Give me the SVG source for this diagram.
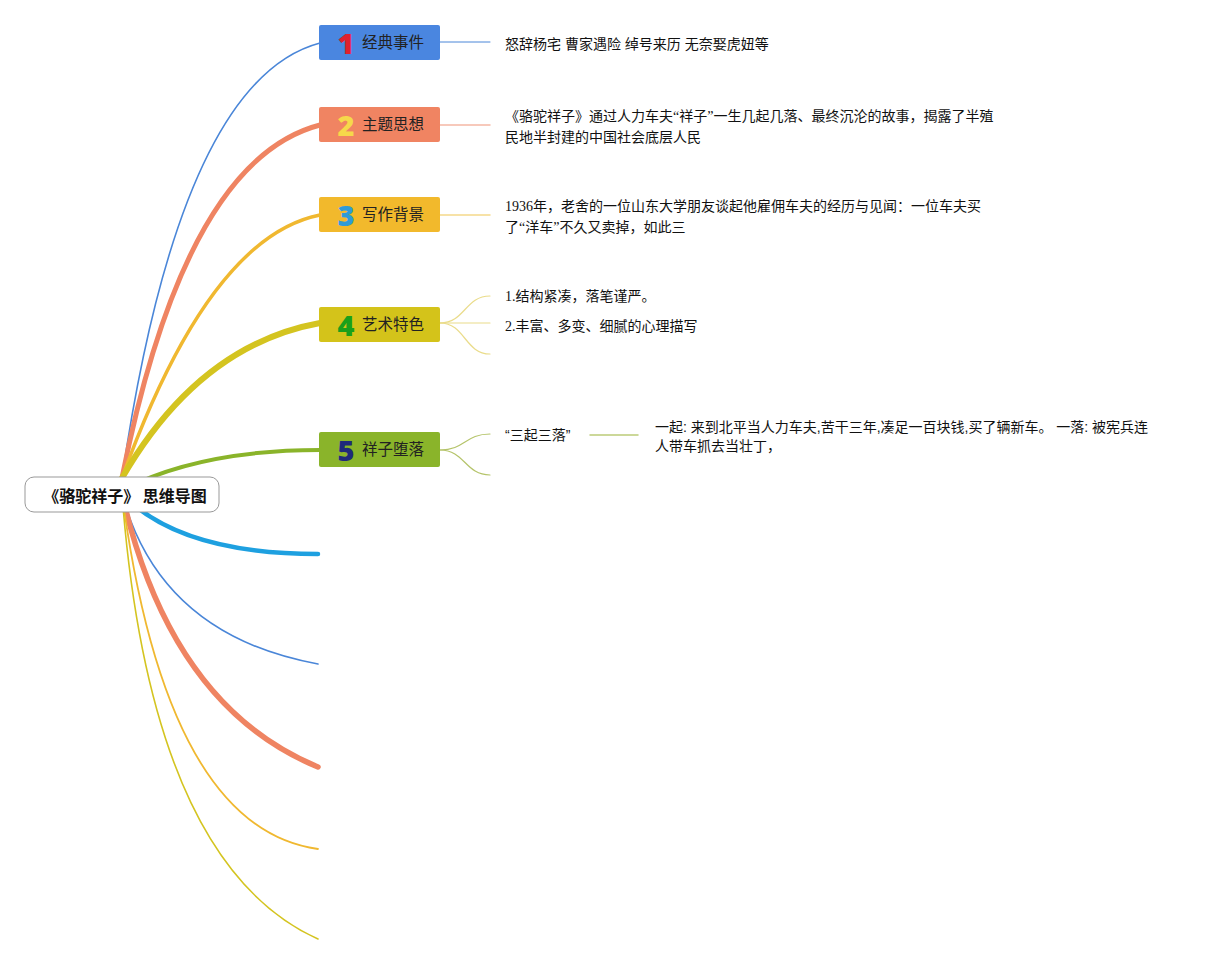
<svg xmlns="http://www.w3.org/2000/svg" width="1214" height="965" viewBox="0 0 1214 965">
<style>
.lbl{font-family:"Noto Sans CJK SC","Noto Sans",sans-serif;font-size:15.5px;fill:#222}
.num{font-family:"Open Sans","Liberation Sans",sans-serif;font-weight:800;font-size:29px;text-anchor:middle}
.txt{font-family:"Liberation Serif","Noto Sans CJK SC",serif;font-size:14px;fill:#111}
.txs{font-family:"Liberation Sans","Noto Sans CJK SC",sans-serif;font-size:14px;fill:#111}
.c{fill:none;stroke-linecap:round}
</style>
<rect width="1214" height="965" fill="#fff"/>
<g id="connectors">
  <path class="c" d="M122,478 Q180,80 320,43" stroke="#4A86D8" stroke-width="1.6"/>
  <path class="c" d="M122,478 Q185,160 320,125" stroke="#EF8462" stroke-width="5"/>
  <path class="c" d="M122,478 Q209,237 320,215" stroke="#F0B830" stroke-width="3.5"/>
  <path class="c" d="M122,478 Q199,345 320,323" stroke="#D4C420" stroke-width="6"/>
  <path class="c" d="M122,490 Q200,450 320,450" stroke="#8AB42A" stroke-width="4"/>
  <path class="c" d="M122,494 Q180,554 318,554" stroke="#1EA0E0" stroke-width="4.5"/>
  <path class="c" d="M122,494 Q160,635 318,664" stroke="#4A86D8" stroke-width="1.6"/>
  <path class="c" d="M122,494 Q170,706 318,767" stroke="#EF8462" stroke-width="5.5"/>
  <path class="c" d="M122,494 Q166,828 318,849" stroke="#F0B830" stroke-width="1.8"/>
  <path class="c" d="M122,494 Q150,863 318,939" stroke="#D4C420" stroke-width="1.6"/>
  <path class="c" d="M440,42 L490,42" stroke="#4A86D8" stroke-width="1"/>
  <path class="c" d="M440,125 L490,125" stroke="#F5B8A5" stroke-width="1.5"/>
  <path class="c" d="M440,215 L490,215" stroke="#F5D98A" stroke-width="1.5"/>
  <path class="c" d="M440,323 C465,323 465,296 490,296" stroke="#EADC8A" stroke-width="1.2"/>
  <path class="c" d="M440,323 L490,323" stroke="#EADC8A" stroke-width="1.2"/>
  <path class="c" d="M440,323 C465,323 465,354 490,354" stroke="#EADC8A" stroke-width="1.2"/>
  <path class="c" d="M440,450 C465,450 465,434 490,434" stroke="#B5C46A" stroke-width="1.2"/>
  <path class="c" d="M440,450 C465,450 465,475 490,475" stroke="#B5C46A" stroke-width="1.2"/>
  <path class="c" d="M590,435 L638,435" stroke="#BCCB78" stroke-width="1.5"/>
</g>
<g id="root">
  <rect x="25" y="477" width="194" height="35" rx="9" fill="#fff" stroke="#999" stroke-width="1"/>
  <text x="125" y="501.5" text-anchor="middle" style="font-family:'Noto Sans CJK SC',sans-serif;font-weight:bold;font-size:16px;fill:#111">《骆驼祥子》 思维导图</text>
</g>
<g id="node1">
  <rect x="319" y="25" width="121" height="35" rx="2" fill="#4A86E0"/>
  <text class="num" x="346" y="54" fill="#E0202E">1</text>
  <text class="lbl" x="362" y="48">经典事件</text>
</g>
<g id="node2">
  <rect x="319" y="107" width="121" height="35" rx="2" fill="#F08462"/>
  <text class="num" x="346" y="136" fill="#F6D84A">2</text>
  <text class="lbl" x="362" y="130">主题思想</text>
</g>
<g id="node3">
  <rect x="319" y="197" width="121" height="35" rx="2" fill="#F2B92C"/>
  <text class="num" x="346" y="226" fill="#2F9BD8">3</text>
  <text class="lbl" x="362" y="220">写作背景</text>
</g>
<g id="node4">
  <rect x="319" y="307" width="121" height="35" rx="2" fill="#D4C31A"/>
  <text class="num" x="346" y="336" fill="#1AA01A">4</text>
  <text class="lbl" x="362" y="330">艺术特色</text>
</g>
<g id="node5">
  <rect x="319" y="432" width="121" height="35" rx="2" fill="#8AB42A"/>
  <text class="num" x="346" y="461" fill="#1F2A7A">5</text>
  <text class="lbl" x="362" y="455">祥子堕落</text>
</g>
<g id="text1">
  <text class="txs" x="505" y="49">怒辞杨宅 曹家遇险 绰号来历 无奈娶虎妞等</text>
</g>
<g id="text2">
  <text class="txt" x="505" y="121">《骆驼祥子》通过人力车夫“祥子”一生几起几落、最终沉沦的故事，揭露了半殖</text>
  <text class="txt" x="505" y="142">民地半封建的中国社会底层人民</text>
</g>
<g id="text3">
  <text class="txt" x="505" y="211">1936年，老舍的一位山东大学朋友谈起他雇佣车夫的经历与见闻：一位车夫买</text>
  <text class="txt" x="505" y="232">了“洋车”不久又卖掉，如此三</text>
</g>
<g id="text4a">
  <text class="txt" x="505" y="301">1.结构紧凑，落笔谨严。</text>
</g>
<g id="text4b">
  <text class="txt" x="505" y="331">2.丰富、多变、细腻的心理描写</text>
</g>
<g id="text5">
  <text class="txs" x="505" y="440">“三起三落”</text>
</g>
<g id="text6">
  <text class="txs" x="655" y="432">一起: 来到北平当人力车夫,苦干三年,凑足一百块钱,买了辆新车。 一落: 被宪兵连</text>
  <text class="txs" x="655" y="451">人带车抓去当壮丁，</text>
</g>
</svg>
